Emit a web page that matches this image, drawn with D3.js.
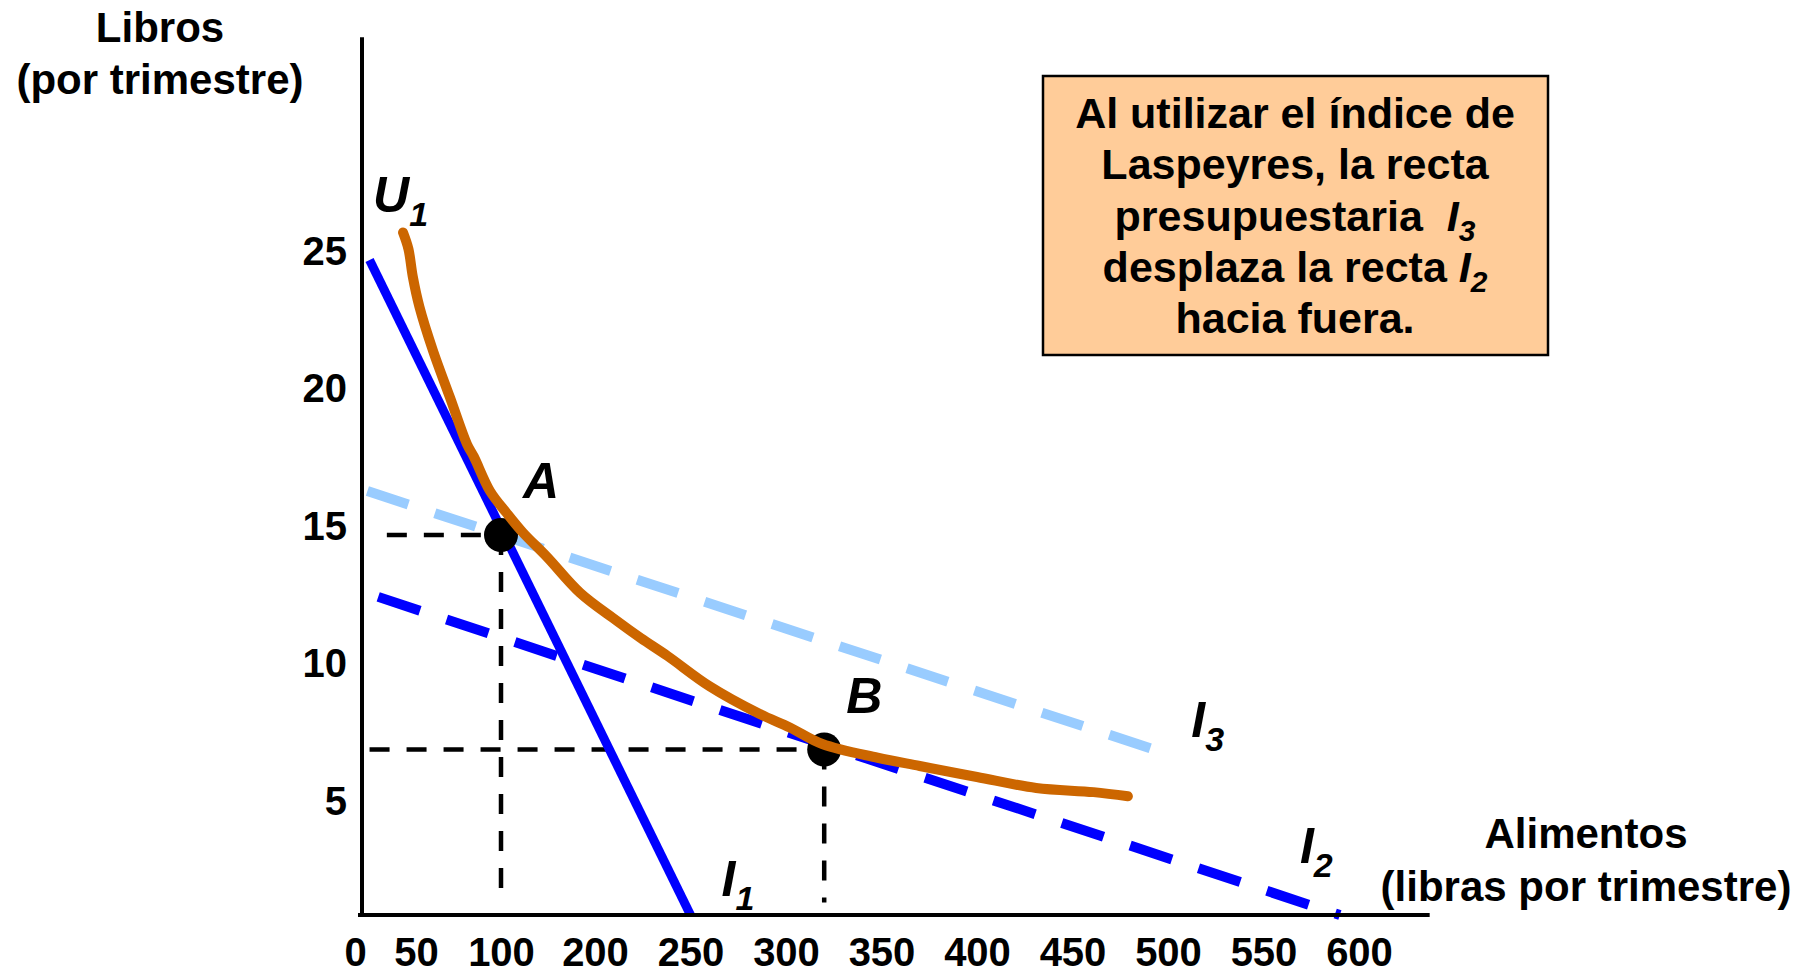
<!DOCTYPE html>
<html>
<head>
<meta charset="utf-8">
<script src="https://cdn.jsdelivr.net/npm/d3@7"></script>
<style>
  body { margin: 0; background: #fff; }
</style>
</head>
<body>
<script>
let w = 1818
let h = 974
let font = "'Liberation Sans', Arial, Helvetica, sans-serif"

// tick labels
let xTicks = [0, 50, 100, 200, 250, 300, 350, 400, 450, 500, 550, 600]
let yTicks = [5, 10, 15, 20, 25]

// budget lines, [food, books] at each end
let i1 = [[7, 25], [250, 0]]
let i2 = [[15, 12.75], [590, 0]]
let i3 = [[5, 16.6], [497, 7.1]]

// indifference curve U1
let u1Food  = [38, 43, 47, 52, 60, 70, 80, 84, 93.5, 106, 123, 149, 184, 211, 224, 238, 260, 286, 302, 319, 348, 370, 400, 431, 461, 479]
let u1Books = [26, 25.4, 24.4, 23.3, 21.7, 20, 18.3, 17.85, 16.6, 15.8, 15.1, 14.2, 12.9, 11.9, 11.25, 10.6, 9.5, 8.5, 8, 7.4, 6.9, 6.6, 6.2, 5.8, 5.65, 5.5]

// points A and B and their guide lines
let pointNames = ["A", "B"]
let pointFood  = [100, 320]
let pointBooks = [15, 7.2]
let guideStartFood = [23, 7]
let guideEndBooks  = [1.1, 0.6]

let boxLines = [
  ["Al utilizar el índice de"],
  ["Laspeyres, la recta"],
  ["presupuestaria  ", "I", "3"],
  ["desplaza la recta ", "I", "2"],
  ["hacia fuera."]
]

let svg = d3.select("body").append("svg")
  .attr("width", w)
  .attr("height", h)
  .style("font-family", font)
  .style("font-weight", "bold")

// the original sketch does not space its ticks evenly, so both scales are piecewise
let x = d3.scaleLinear().domain([0, 50, 100, 200, 600]).range([362, 416, 501, 595, 1359])
let y = d3.scaleLinear().domain([0, 5, 25]).range([915, 810, 260])

let line = d3.line().x(d => x(d[0])).y(d => y(d[1]))

// dashed guides from A and B
pointFood.forEach((f, i) => {
  svg.append("path")
    .attr("d", line([[guideStartFood[i], pointBooks[i]], [f, pointBooks[i]]]))
    .attr("stroke", "black").attr("stroke-width", 4.5).attr("stroke-dasharray", "20,17").attr("fill", "none")
  svg.append("path")
    .attr("d", line([[f, pointBooks[i]], [f, guideEndBooks[i]]]))
    .attr("stroke", "black").attr("stroke-width", 4.5).attr("stroke-dasharray", "20,17").attr("fill", "none")
})

// budget lines
svg.append("path").attr("d", line(i3))
  .attr("stroke", "#99CCFF").attr("stroke-width", 10).attr("stroke-dasharray", "43,28").attr("fill", "none")
svg.append("path").attr("d", line(i2))
  .attr("stroke", "#0000FF").attr("stroke-width", 10).attr("stroke-dasharray", "44,28").attr("fill", "none")
svg.append("path").attr("d", line(i1))
  .attr("stroke", "#0000FF").attr("stroke-width", 9).attr("fill", "none")

// points
svg.selectAll("circle.pt")
  .data(pointNames)
  .enter()
  .append("circle")
  .attr("class", "pt")
  .attr("cx", (d, i) => x(pointFood[i]))
  .attr("cy", (d, i) => y(pointBooks[i]))
  .attr("r", 17)
  .attr("fill", "black")

// U1
let u1 = u1Food.map((f, i) => [f, u1Books[i]])
svg.append("path")
  .attr("d", line.curve(d3.curveCatmullRom)(u1))
  .attr("stroke", "#CC6600").attr("stroke-width", 10).attr("stroke-linecap", "round").attr("fill", "none")

// point labels
svg.selectAll("text.pt")
  .data(pointNames)
  .enter()
  .append("text")
  .attr("class", "pt")
  .attr("x", (d, i) => x(pointFood[i]) + 22)
  .attr("y", (d, i) => y(pointBooks[i]) - 37)
  .attr("font-size", 50)
  .attr("font-style", "italic")
  .text(d => d)

// curve / line labels with subscripts
let subLabel = (name, sub, px, py) => {
  let t = svg.append("text")
    .attr("x", px).attr("y", py)
    .attr("font-size", 50)
    .attr("font-style", "italic")
  t.append("tspan").text(name)
  t.append("tspan").attr("font-size", 34).attr("dy", 14).text(sub)
}
subLabel("U", "1", x(u1[0][0]) - 30, y(u1[0][1]) - 21)
subLabel("I", "1", x(i1[1][0]) + 31, y(i1[1][1]) - 19)
subLabel("I", "2", x(i2[1][0]) - 40, y(i2[1][1]) - 52)
subLabel("I", "3", x(i3[1][0]) + 29, y(i3[1][1]) - 15)

// axes
let xAxis = d3.axisBottom(x).tickValues(xTicks).tickSize(0).tickPadding(23).tickFormat(d3.format("d"))
svg.append("g")
  .attr("transform", `translate(0,${y(0)})`)
  .call(xAxis)
  .call(g => g.select(".domain").remove())
  .attr("font-size", 40)
  .attr("font-family", font)
  .attr("font-weight", "bold")
  .selectAll("text").attr("dx", d => d === 0 ? -7 : 0)

let yAxis = d3.axisLeft(y).tickValues(yTicks).tickSize(0).tickPadding(15)
svg.append("g")
  .attr("transform", `translate(${x(0)},0)`)
  .call(yAxis)
  .call(g => g.select(".domain").remove())
  .attr("font-size", 40)
  .attr("font-family", font)
  .attr("font-weight", "bold")
  .selectAll("text").attr("dy", "0.11em")

svg.selectAll(".tick text").attr("fill", "black")

svg.append("line")
  .attr("x1", x(0) - 4).attr("x2", x(637))
  .attr("y1", y(0)).attr("y2", y(0))
  .attr("stroke", "black").attr("stroke-width", 4)
svg.append("line")
  .attr("x1", x(0)).attr("x2", x(0))
  .attr("y1", y(0)).attr("y2", y(33.1))
  .attr("stroke", "black").attr("stroke-width", 4)

// axis titles
svg.append("text").attr("x", 160).attr("y", 42).attr("text-anchor", "middle").attr("font-size", 42).text("Libros")
svg.append("text").attr("x", 160).attr("y", 94).attr("text-anchor", "middle").attr("font-size", 42).text("(por trimestre)")
svg.append("text").attr("x", 1586).attr("y", 848).attr("text-anchor", "middle").attr("font-size", 42).text("Alimentos")
svg.append("text").attr("x", 1586).attr("y", 901).attr("text-anchor", "middle").attr("font-size", 42).text("(libras por trimestre)")

// note box
svg.append("rect")
  .attr("x", 1043).attr("y", 76)
  .attr("width", 505).attr("height", 279)
  .attr("fill", "#FFCC99")
  .attr("stroke", "black")
  .attr("stroke-width", 2.5)

boxLines.forEach((parts, i) => {
  let t = svg.append("text")
    .attr("x", 1295)
    .attr("y", 128 + i * 51.3)
    .attr("text-anchor", "middle")
    .attr("font-size", 43)
    .style("white-space", "pre")
  t.append("tspan").text(parts[0])
  if (parts.length > 1) {
    t.append("tspan").attr("font-style", "italic").text(parts[1])
    t.append("tspan").attr("font-style", "italic").attr("font-size", 30).attr("dy", 10).text(parts[2])
  }
})
</script>
</body>
</html>
